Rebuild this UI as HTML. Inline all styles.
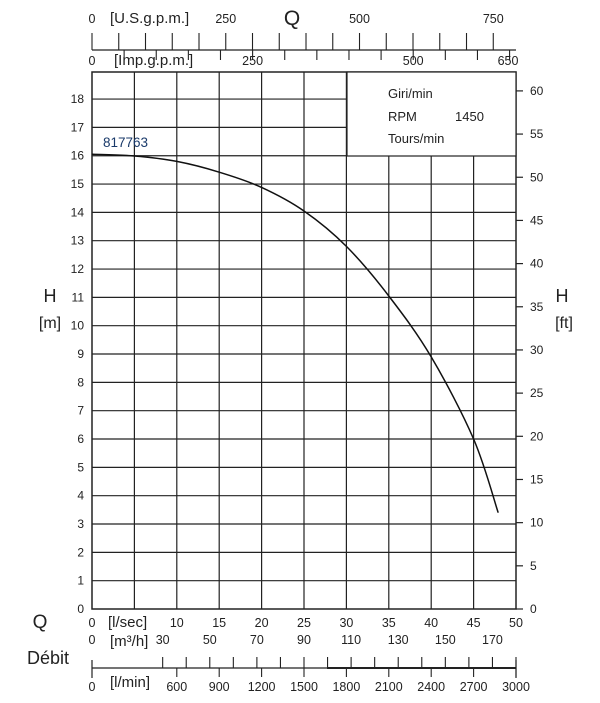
<!DOCTYPE html>
<html><head><meta charset="utf-8"><style>
html,body{margin:0;padding:0;background:#fff}
svg text{font-family:"Liberation Sans",sans-serif;fill:#222}
</style></head><body>
<svg id="s" width="600" height="698" viewBox="0 0 600 698" xmlns="http://www.w3.org/2000/svg"></svg>
<script>
const s=document.getElementById('s');let h='';
const X0=92,X1=516,Y0=609,kx=(X1-X0)/50,ky=28.33;
const px=v=>X0+v*kx, py=m=>Y0-m*ky;
const L=(a,b,c,d,w=1,col='#222')=>h+=`<line x1="${a}" y1="${b}" x2="${c}" y2="${d}" stroke="${col}" stroke-width="${w}"/>`;
const T=(x,y,t,sz=12,anc='middle',col)=>h+=`<text x="${x}" y="${y}" font-size="${sz}" text-anchor="${anc}"${col?` style="fill:${col}"`:''}>${t}</text>`;
for(let i=1;i<10;i++){const x=px(i*5);L(x,(x>347?156:72),x,Y0,1.2);}
for(let m=1;m<=18;m++){const y=py(m);L(X0,y,(m>=16?347:X1),y,1.2);}
h+=`<rect x="${X0}" y="72" width="${X1-X0}" height="${Y0-72}" fill="none" stroke="#222" stroke-width="1.5"/>`;
h+=`<rect x="347" y="72" width="${X1-347}" height="84" fill="#fff" stroke="#222" stroke-width="1.2"/>`;
T(388,98,'Giri/min',13,'start');T(388,121,'RPM',13,'start');T(455,121,'1450',13,'start');T(388,143,'Tours/min',13,'start');
for(let m=0;m<=18;m++)T(84,py(m)+4,m,12,'end');
for(let f=0;f<=60;f+=5){const y=Y0-f*0.3048*ky;L(X1,y,X1+7,y,1.2);T(530,y+4,f,12,'start');}
T(50,302,'H',18);T(50,328,'[m]',16);T(562,302,'H',18);T(564,328,'[ft]',16);
const ug=(X1-X0)/792.5, ig=(X1-X0)/660;
L(X0,50,X1,50,1.3);
for(let g=0;g<=775;g+=50){const x=X0+g*ug;L(x,33,x,50,1.1);}
T(X0,23,'0',12.5);T(92+250*ug,23,'250',12.5);T(92+500*ug,23,'500',12.5);T(92+750*ug,23,'750',12.5);
T(110,23,'[U.S.g.p.m.]',15,'start');T(292,25,'Q',21);
for(let g=50;g<=650;g+=50){const x=X0+g*ig;L(x,50,x,60,1.1);}
T(X0,65,'0',12.5);T(92+250*ig,65,'250',12.5);T(92+500*ig,65,'500',12.5);T(508,65,'650',12.5);
T(114,65,'[Imp.g.p.m.]',15,'start');
T(X0,627,'0',12.5);T(108,627,'[l/sec]',15,'start');
for(let i=2;i<=10;i++)T(px(i*5),627,i*5,12.5);
T(40,628,'Q',19);T(48,664,'Débit',18);
T(X0,644,'0',12.5);T(110,646,'[m³/h]',15,'start');
const km=(X1-X0)/180;
for(let v=30;v<=170;v+=20)T(X0+v*km,644,v,12.5);
L(X0,668,X1,668,1.3);L(327,668,X1,668,2);
L(X0,660,X0,678,1.2);L(X1,660,X1,678,1.2);
for(let v=30;v<=180;v+=10){const x=X0+v*km;L(x,657,x,668,1.1);}
const kl=(X1-X0)/3000;
for(let v=600;v<=3000;v+=300){const x=X0+v*kl;L(x,668,x,677,1.1);T(x,691,v,12.5);}
T(X0,691,'0',12.5);T(110,687,'[l/min]',15,'start');
const pts=[[0,16.05],[5,15.99],[10,15.8],[15,15.42],[20,14.88],[25,14.05],[30,12.8],[35,11.05],[40,8.9],[45,6],[47.9,3.4]];
let d='M'+px(pts[0][0])+','+py(pts[0][1]);
for(let i=0;i<pts.length-1;i++){const p0=pts[Math.max(0,i-1)],p1=pts[i],p2=pts[i+1],p3=pts[Math.min(pts.length-1,i+2)];
const P=p=>[px(p[0]),py(p[1])];const a=P(p0),b=P(p1),c=P(p2),e=P(p3);
d+=` C${(b[0]+(c[0]-a[0])/6).toFixed(1)},${(b[1]+(c[1]-a[1])/6).toFixed(1)} ${(c[0]-(e[0]-b[0])/6).toFixed(1)},${(c[1]-(e[1]-b[1])/6).toFixed(1)} ${c[0].toFixed(1)},${c[1].toFixed(1)}`;}
h+=`<path d="${d}" fill="none" stroke="#111" stroke-width="1.5"/>`;
T(103,147,'817763',13.5,'start','#1a3a6a');
s.innerHTML=h;
</script>
</body></html>
